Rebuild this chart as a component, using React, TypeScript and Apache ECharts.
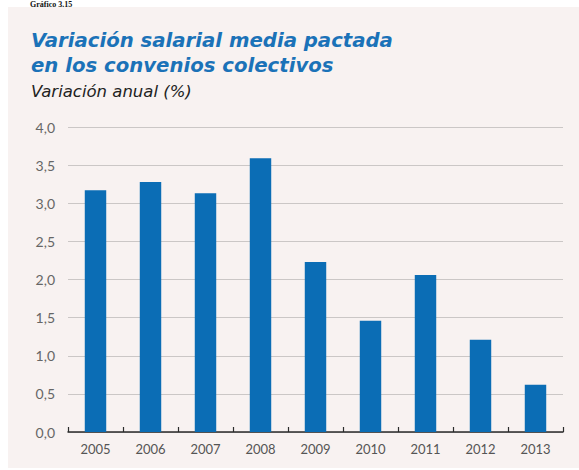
import React, { useEffect, useRef } from "react";
import * as echarts from "echarts";

const years = ["2005", "2006", "2007", "2008", "2009", "2010", "2011", "2012", "2013"];
const values = [3.17, 3.28, 3.13, 3.59, 2.23, 1.46, 2.06, 1.21, 0.62];
const yMin = 0;
const yMax = 4;
const yStep = 0.5;

const titleLine1 = "Variación salarial media pactada";
const titleLine2 = "en los convenios colectivos";
const subtitleText = "Variación anual (%)";
const headerText = "Gráfico 3.15";

export default function App() {
  const ref = useRef<HTMLDivElement>(null);
  useEffect(() => {
    document.body.style.margin = "0";
    const chart = echarts.init(ref.current!, null, { renderer: "svg" });
    const titleStyle = {
      fontFamily: "DejaVu Sans",
      fontSize: 19.7,
      fontWeight: "bold",
      fontStyle: "italic",
      color: "#1b72b8",
      lineHeight: 24,
    };
    chart.setOption({
      animation: false,
      backgroundColor: "transparent",
      title: [
        { text: titleLine1, left: 31, top: 28, padding: 0, textStyle: titleStyle },
        { text: titleLine2, left: 31, top: 53, padding: 0, textStyle: titleStyle },
        {
          text: subtitleText,
          left: 31,
          top: 81,
          padding: 0,
          textStyle: {
            fontFamily: "DejaVu Sans",
            fontSize: 16.5,
            fontWeight: "normal",
            fontStyle: "italic",
            color: "#222222",
            lineHeight: 20,
          },
        },
      ],
      graphic: [
        {
          type: "text",
          left: 30,
          top: 0,
          style: {
            text: headerText,
            font: "bold 8px 'Liberation Serif', serif",
            fill: "#111111",
          },
        },
      ],
      grid: { left: 68, right: 16, top: 127, bottom: 38 },
      xAxis: {
        type: "category",
        data: years,
        axisLine: { show: true, lineStyle: { color: "#2b2b2b", width: 1.5 } },
        axisTick: { show: true, inside: true, length: 5, lineStyle: { color: "#2b2b2b", width: 1.2 } },
        axisLabel: { fontFamily: "Lato", fontSize: 13, color: "#555555", margin: 10 },
      },
      yAxis: {
        type: "value",
        min: yMin,
        max: yMax,
        interval: yStep,
        axisLine: { show: false },
        axisTick: { show: false },
        splitLine: { show: true, lineStyle: { color: "#cbc7c6", width: 1 } },
        axisLabel: {
          fontFamily: "Lato",
          fontSize: 14,
          color: "#666666",
          margin: 13,
          formatter: (v: number) => v.toFixed(1).replace(".", ","),
        },
      },
      series: [
        {
          type: "bar",
          data: values,
          barWidth: "39%",
          itemStyle: { color: "#0b6db5" },
        },
      ],
    });
    return () => chart.dispose();
  }, []);
  return (
    <div style={{ position: "relative", width: 579, height: 470, background: "#ffffff", overflow: "hidden" }}>
      <div style={{ position: "absolute", left: 8, top: 7, width: 571, height: 461, background: "#f8f2f1" }} />
      <div ref={ref} style={{ position: "absolute", left: 0, top: 0, width: 579, height: 470 }} />
    </div>
  );
}
